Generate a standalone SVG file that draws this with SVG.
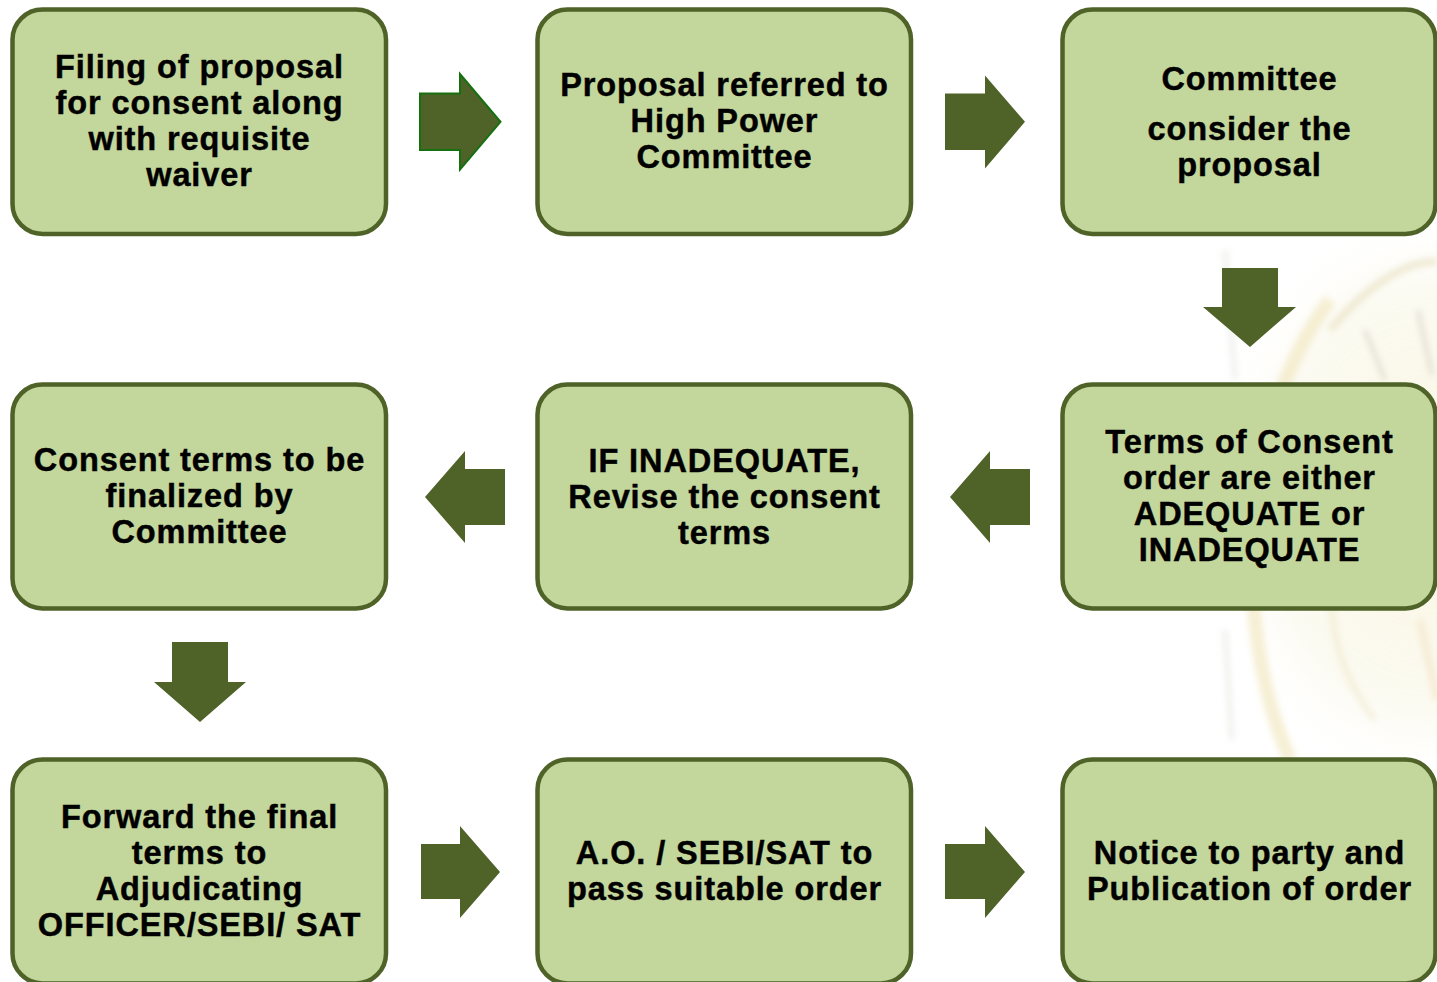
<svg xmlns="http://www.w3.org/2000/svg" width="1437" height="982" viewBox="0 0 1437 982">
  <defs>
    <style>
      .box { fill: #c3d69b; stroke: #4f6228; stroke-width: 4.5; }
      .arrow { fill: #4f6228; }
      .arrow-outlined { fill: #4f6228; stroke: #16700f; stroke-width: 2; }
      .label { font-family: "Liberation Sans", Arial, sans-serif; font-weight: bold; font-size: 32.5px; letter-spacing: 0.9px; fill: #000; stroke: #000; stroke-width: 0.45px; text-anchor: middle; }
    </style>
    <radialGradient id="haze" cx="0.5" cy="0.5" r="0.5">
      <stop offset="0" stop-color="#f3ebb8" stop-opacity="0.75"/>
      <stop offset="0.7" stop-color="#f1ecc8" stop-opacity="0.4"/>
      <stop offset="1" stop-color="#ffffff" stop-opacity="0"/>
    </radialGradient>
    <filter id="soft" x="-20%" y="-20%" width="140%" height="140%">
      <feGaussianBlur stdDeviation="3"/>
    </filter>
  </defs>

  <rect width="1437" height="982" fill="#ffffff"/>

  <!-- faint clock-face backdrop on the right -->
  <g id="backdrop" filter="url(#soft)" opacity="0.6">
    <ellipse cx="1430" cy="500" rx="230" ry="300" fill="url(#haze)"/>
    <path d="M1290 760 C1230 620 1240 420 1330 300" fill="none" stroke="#e6d48a" stroke-width="14" opacity="0.6"/>
    <path d="M1330 330 C1380 270 1420 260 1437 262" fill="none" stroke="#cdbf7a" stroke-width="8" opacity="0.5"/>
    <path d="M1375 720 C1320 650 1320 560 1360 520" fill="none" stroke="#e2d49a" stroke-width="6" opacity="0.5"/>
    <path d="M1225 250 L1235 380 M1225 630 L1232 740" stroke="#c8d0c0" stroke-width="5" opacity="0.5"/>
    <path d="M1365 330 L1385 380 M1418 310 L1432 375" stroke="#8a7a70" stroke-width="4" opacity="0.45"/>
    <path d="M1420 620 L1437 700" stroke="#e6c890" stroke-width="8" opacity="0.5"/>
  </g>

  <!-- connectors -->
  <g id="connectors">
    <polygon class="arrow-outlined" points="420,93.5 460,93.5 460,74 500.5,121.8 460,169.5 460,150 420,150"/>
    <polygon class="arrow" points="945,93.5 985,93.5 985,75.5 1025,121.8 985,168.5 985,150 945,150"/>
    <polygon class="arrow" points="1222,268 1278,268 1278,307 1296,307 1250,347 1203,307 1222,307"/>
    <polygon class="arrow" points="1030,469 990,469 990,451 950,497 990,543 990,525 1030,525"/>
    <polygon class="arrow" points="505,469 465,469 465,451 425,497 465,543 465,525 505,525"/>
    <polygon class="arrow" points="172,642 228,642 228,682 246,682 200,722 154,682 172,682"/>
    <polygon class="arrow" points="421,844 460,844 460,826 500,872 460,918 460,899 421,899"/>
    <polygon class="arrow" points="945,844 985,844 985,826 1025,872 985,918 985,899 945,899"/>
  </g>

  <!-- row 1 -->
  <g id="filing">
    <rect class="box" x="12.5" y="9.5" width="373.5" height="224.5" rx="30"/>
    <text class="label"><tspan x="199.5" y="77.7">Filing of proposal</tspan><tspan x="199.5" y="113.7">for consent along</tspan><tspan x="199.5" y="149.7">with requisite</tspan><tspan x="199.5" y="185.7">waiver</tspan></text>
  </g>
  <g id="referred">
    <rect class="box" x="537.5" y="9.5" width="373.5" height="224.5" rx="30"/>
    <text class="label"><tspan x="724.5" y="95.7">Proposal referred to</tspan><tspan x="724.5" y="131.7">High Power</tspan><tspan x="724.5" y="167.7">Committee</tspan></text>
  </g>
  <g id="consider">
    <rect class="box" x="1062.5" y="9.5" width="373" height="224.5" rx="30"/>
    <text class="label"><tspan x="1249.5" y="89.7">Committee</tspan><tspan x="1249.5" y="139.5">consider the</tspan><tspan x="1249.5" y="175.5">proposal</tspan></text>
  </g>

  <!-- row 2 -->
  <g id="finalized">
    <rect class="box" x="12.5" y="384.5" width="373.5" height="224" rx="30"/>
    <text class="label"><tspan x="199.5" y="471">Consent terms to be</tspan><tspan x="199.5" y="507">finalized by</tspan><tspan x="199.5" y="543">Committee</tspan></text>
  </g>
  <g id="revise">
    <rect class="box" x="537.5" y="384.5" width="373.5" height="224" rx="30"/>
    <text class="label"><tspan x="724.5" y="471.5">IF INADEQUATE,</tspan><tspan x="724.5" y="507.5">Revise the consent</tspan><tspan x="724.5" y="543.5">terms</tspan></text>
  </g>
  <g id="adequacy">
    <rect class="box" x="1062.5" y="384.5" width="373" height="224" rx="30"/>
    <text class="label"><tspan x="1249.5" y="452.5">Terms of Consent</tspan><tspan x="1249.5" y="488.5">order are either</tspan><tspan x="1249.5" y="524.5">ADEQUATE or</tspan><tspan x="1249.5" y="560.5">INADEQUATE</tspan></text>
  </g>

  <!-- row 3 -->
  <g id="forward">
    <rect class="box" x="12.5" y="759.5" width="373.5" height="224" rx="30"/>
    <text class="label"><tspan x="199.5" y="828.3">Forward the final</tspan><tspan x="199.5" y="864.3">terms to</tspan><tspan x="199.5" y="900.3">Adjudicating</tspan><tspan x="199.5" y="936.3">OFFICER/SEBI/ SAT</tspan></text>
  </g>
  <g id="order">
    <rect class="box" x="537.5" y="759.5" width="373.5" height="224" rx="30"/>
    <text class="label"><tspan x="724.5" y="864.3">A.O. / SEBI/SAT to</tspan><tspan x="724.5" y="900.3">pass suitable order</tspan></text>
  </g>
  <g id="notice">
    <rect class="box" x="1062.5" y="759.5" width="373" height="224" rx="30"/>
    <text class="label"><tspan x="1249.5" y="864.3">Notice to party and</tspan><tspan x="1249.5" y="900.3">Publication of order</tspan></text>
  </g>
</svg>
